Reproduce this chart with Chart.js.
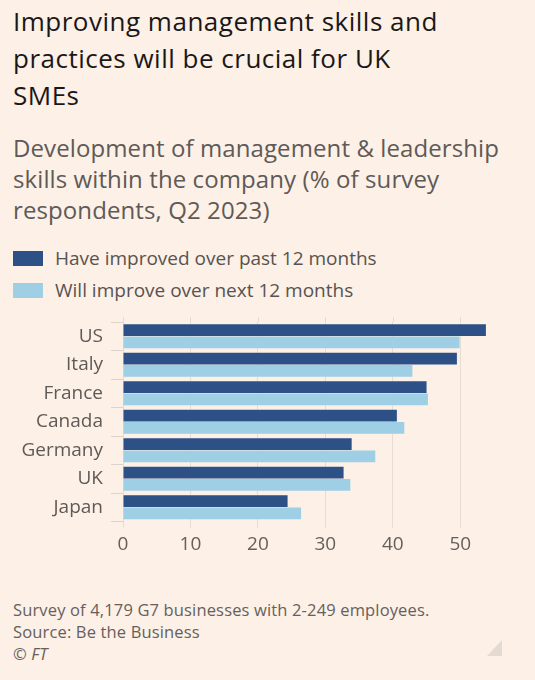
<!DOCTYPE html>
<html><head><meta charset="utf-8">
<script src="https://cdn.jsdelivr.net/npm/chart.js@4"></script>
<style>
html,body{margin:0;padding:0;background:#fcf0e7;}
body{width:535px;height:680px;position:relative;overflow:hidden;font-family:"Open Sans",sans-serif;}
#title{position:absolute;left:13px;top:3.4px;font-size:26px;letter-spacing:0.5px;line-height:37px;color:#1a1817;white-space:nowrap;}
#subtitle{position:absolute;left:13px;top:132px;font-size:24px;letter-spacing:0.1px;line-height:31px;color:#5f5a57;white-space:nowrap;}
.lg{position:absolute;left:13px;height:15px;font-size:19px;line-height:15px;color:#59534f;white-space:nowrap;}
.lg span.sw{position:absolute;left:0;top:0;width:30px;height:15px;}
.lg span.tx{position:absolute;left:42px;top:0;}
#footer{position:absolute;left:13px;top:599px;font-size:16.5px;letter-spacing:0.15px;line-height:22px;color:#66605c;white-space:nowrap;}
#tri{position:absolute;left:487px;top:640px;width:0;height:0;border-left:15px solid transparent;border-bottom:16px solid #e3dbd3;}
#wrap{position:absolute;left:0;top:300px;width:535px;height:260px;}
</style></head>
<body>
<div id="title">Improving management skills and<br>practices will be crucial for UK<br>SMEs</div>
<div id="subtitle">Development of management &amp; leadership<br>skills within the company (% of survey<br>respondents, Q2 2023)</div>
<div id="legend"></div>
<div id="wrap"><canvas id="c"></canvas></div>
<div id="footer">Survey of 4,179 G7 businesses with 2-249 employees.<br>Source: Be the Business<br><i>© FT</i></div>
<div id="tri"></div>
<script>
const categories = ["US","Italy","France","Canada","Germany","UK","Japan"];
const pastValues = [53.8,49.5,45.0,40.6,33.9,32.7,24.4];
const nextValues = [49.9,42.9,45.2,41.7,37.4,33.7,26.4];
const xTicks = [0,10,20,30,40,50];
const seriesNames = ["Have improved over past 12 months","Will improve over next 12 months"];
const seriesColors = ["#2d5187","#9ecfe4"];

const datasets = [
  {label:seriesNames[0], data:pastValues, backgroundColor:seriesColors[0]},
  {label:seriesNames[1], data:nextValues, backgroundColor:seriesColors[1]}
];

// HTML legend built from datasets
const lg = document.getElementById('legend');
datasets.forEach((d,i)=>{
  const row = document.createElement('div');
  row.className='lg';
  row.style.top = (251 + i*32) + 'px';
  row.innerHTML = '<span class="sw" style="background:'+d.backgroundColor+'"></span><span class="tx">'+d.label+'</span>';
  lg.appendChild(row);
});

const gridColor = '#e5dcd4';
// extend vertical gridlines slightly above the plot area
const gridTopExt = {
  id:'gridTopExt',
  beforeDatasetsDraw(chart){
    const {ctx, chartArea, scales} = chart;
    ctx.save();
    ctx.strokeStyle = gridColor; ctx.lineWidth = 1;
    scales.x.ticks.forEach(t=>{
      const x = Math.round(scales.x.getPixelForValue(t.value)) + 0.5;
      ctx.beginPath(); ctx.moveTo(x, chartArea.top - 5); ctx.lineTo(x, chartArea.top); ctx.stroke();
    });
    ctx.restore();
  }
};
new Chart(document.getElementById('c'), {
  type:'bar',
  data:{labels:categories, datasets:datasets.map(d=>Object.assign({}, d, {categoryPercentage:0.85, barPercentage:0.97, borderWidth:0}))},
  plugins:[gridTopExt],
  options:{
    indexAxis:'y',
    responsive:true,
    maintainAspectRatio:false,
    animation:false,
    layout:{padding:{top:22,right:41,left:0,bottom:0}},
    plugins:{legend:{display:false},tooltip:{enabled:false}},
    scales:{
      x:{
        min:0,max:55,
        afterBuildTicks:(s)=>{s.ticks = xTicks.map(v=>({value:v}));},
        afterFit:(s)=>{s.height = 38.5;},
        border:{display:false},
        grid:{color:gridColor,lineWidth:1,drawTicks:true,tickLength:6,tickColor:gridColor},
        ticks:{font:{family:'"Open Sans", sans-serif',size:19},color:'#66605c',padding:6}
      },
      y:{
        afterFit:(s)=>{s.width = 123;},
        border:{display:false},
        grid:{drawOnChartArea:false,drawTicks:true,tickLength:12,tickColor:'#ddd3ca',color:'#ddd3ca'},
        ticks:{font:{family:'"Open Sans", sans-serif',size:19},color:'#5f5a57',padding:8}
      }
    }
  }
});
</script>
</body></html>
